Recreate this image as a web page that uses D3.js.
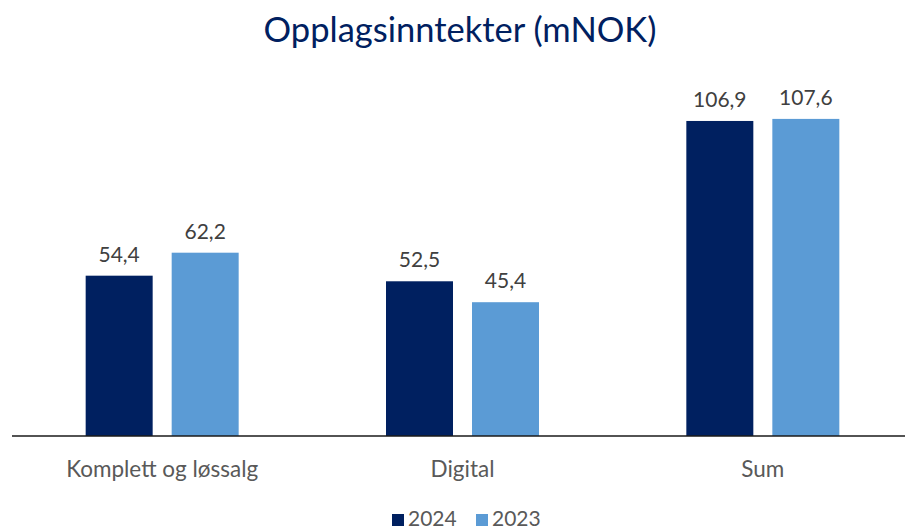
<!DOCTYPE html>
<html>
<head>
<meta charset="utf-8">
<script src="https://cdn.jsdelivr.net/npm/d3@7"></script>
<style>
  body { margin: 0; background: #fff; }
  text { font-family: Lato, "Open Sans", sans-serif; }
</style>
</head>
<body>
<div id="chart"></div>
<script>
const categories = ["Komplett og løssalg", "Digital", "Sum"];
const seriesNames = ["2024", "2023"];
const values2024 = [54.4, 52.5, 106.9];
const values2023 = [62.2, 45.4, 107.6];
const colors = ["#002060", "#5B9BD5"];

const W = 905, H = 529;
const baseY = 436;

const svg = d3.select("#chart")
  .append("svg")
    .attr("width", W)
    .attr("height", H);

// title
svg.append("text")
  .attr("x", 460)
  .attr("y", 42)
  .attr("text-anchor", "middle")
  .style("font-size", "34.5px")
  .style("fill", "#002060")
  .text("Opplagsinntekter (mNOK)");

var x0 = d3.scaleBand()
  .domain(categories)
  .range([12, 913]);

var x1 = d3.scaleBand()
  .domain(seriesNames)
  .range([0, 153])
  .paddingInner(0.221);

var y = d3.scaleLinear()
  .domain([0, 120])
  .range([baseY, baseY - 120 * 2.947]);

const rows = categories.map((c, i) => ({
  cat: c,
  vals: [
    {s: "2024", v: values2024[i], col: colors[0]},
    {s: "2023", v: values2023[i], col: colors[1]}
  ]
}));

var groups = svg.selectAll("g.grp")
  .data(rows)
  .enter().append("g")
  .attr("class", "grp")
  .attr("transform", d => "translate(" + (x0(d.cat) + x0.bandwidth() / 2 - 76.5) + ",0)");

groups.selectAll("rect")
  .data(d => d.vals)
  .enter().append("rect")
  .attr("x", d => x1(d.s))
  .attr("y", d => y(d.v))
  .attr("width", x1.bandwidth())
  .attr("height", d => y(0) - y(d.v))
  .attr("fill", d => d.col);

groups.selectAll("text.val")
  .data(d => d.vals)
  .enter().append("text")
  .attr("class", "val")
  .attr("x", d => x1(d.s) + x1.bandwidth() / 2)
  .attr("y", d => y(d.v) - 14)
  .attr("text-anchor", "middle")
  .style("font-size", "21px")
  .style("fill", "#404040")
  .text(d => d3.format(".1f")(d.v).replace(".", ","));

// x axis
var xAxis = svg.append("g")
  .attr("transform", `translate(0,${baseY})`)
  .call(d3.axisBottom(x0).tickSize(0).tickPadding(25));
xAxis.select(".domain").attr("stroke", "#1a1a1a").attr("stroke-width", 1.5)
  .attr("d", "M12,0H905");
xAxis.selectAll("text")
  .style("font-family", "Lato, 'Open Sans', sans-serif")
  .style("font-size", "22.5px")
  .style("fill", "#595959");

// legend
const legX = [392, 476];
seriesNames.forEach((s, i) => {
  svg.append("rect")
    .attr("x", legX[i])
    .attr("y", 514)
    .attr("width", 12)
    .attr("height", 12)
    .attr("fill", colors[i]);
  svg.append("text")
    .attr("x", legX[i] + 16)
    .attr("y", 526)
    .style("font-size", "21px")
    .style("fill", "#595959")
    .text(s);
});
</script>
</body>
</html>
